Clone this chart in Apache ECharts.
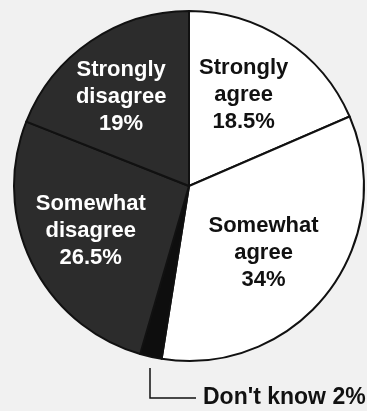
<!DOCTYPE html>
<html>
<head>
<meta charset="utf-8">
<script src="https://cdn.jsdelivr.net/npm/echarts@6/dist/echarts.min.js"></script>
<style>
  html, body { margin: 0; padding: 0; background: #f1f1f1; }
  #chart { width: 367px; height: 411px; }
</style>
</head>
<body>
<div id="chart"></div>
<script>
// Survey responses, clockwise from 12 o'clock
const categories = ['Strongly agree', 'Somewhat agree', "Don't know", 'Somewhat disagree', 'Strongly disagree'];
const shares = [18.5, 34, 2, 26.5, 19];
const sliceColors = ['#ffffff', '#ffffff', '#0e0e0e', '#2c2c2c', '#2c2c2c'];
const textColors = ['#111111', '#111111', '#111111', '#ffffff', '#ffffff'];

// label nudges away from the default inside position (dx, dy)
const nudges = [[5, -15], [3, 11], [0, 0], [-17, 5], [-17, -14]];

const chart = echarts.init(document.getElementById('chart'));

const data = categories.map((name, i) => {
  const item = {
    name: name,
    value: shares[i],
    itemStyle: { color: sliceColors[i] },
    label: {
      color: textColors[i],
      position: 'inside',
      formatter: p => p.name.replace(' ', '\n') + '\n' + p.value + '%'
    }
  };
  if (name === "Don't know") {
    item.label = {
      position: 'outside',
      color: '#111111',
      fontSize: 23,
      fontWeight: 900,
      formatter: p => p.name + ' ' + p.value + '%'
    };
    item.labelLine = { show: true, lineStyle: { color: '#111', width: 1.5 } };
  }
  return item;
});

chart.setOption({
  backgroundColor: '#f1f1f1',
  animation: false,
  series: [{
    type: 'pie',
    center: [189, 186],
    radius: 175,
    startAngle: 90,
    clockwise: true,
    avoidLabelOverlap: false,
    itemStyle: { borderColor: '#111111', borderWidth: 2 },
    label: {
      fontFamily: 'Liberation Sans, Arial, sans-serif',
      fontSize: 22,
      fontWeight: 'bold',
      lineHeight: 27,
      align: 'center'
    },
    labelLine: { show: false },
    labelLayout: function (params) {
      const i = params.dataIndex;
      if (categories[i] === "Don't know") {
        return {
          x: 203,
          y: 398,
          align: 'left',
          verticalAlign: 'middle',
          labelLinePoints: [[150, 368], [150, 398], [196, 398]]
        };
      }
      return { dx: nudges[i][0], dy: nudges[i][1] };
    },
    data: data
  }]
});
</script>
</body>
</html>
